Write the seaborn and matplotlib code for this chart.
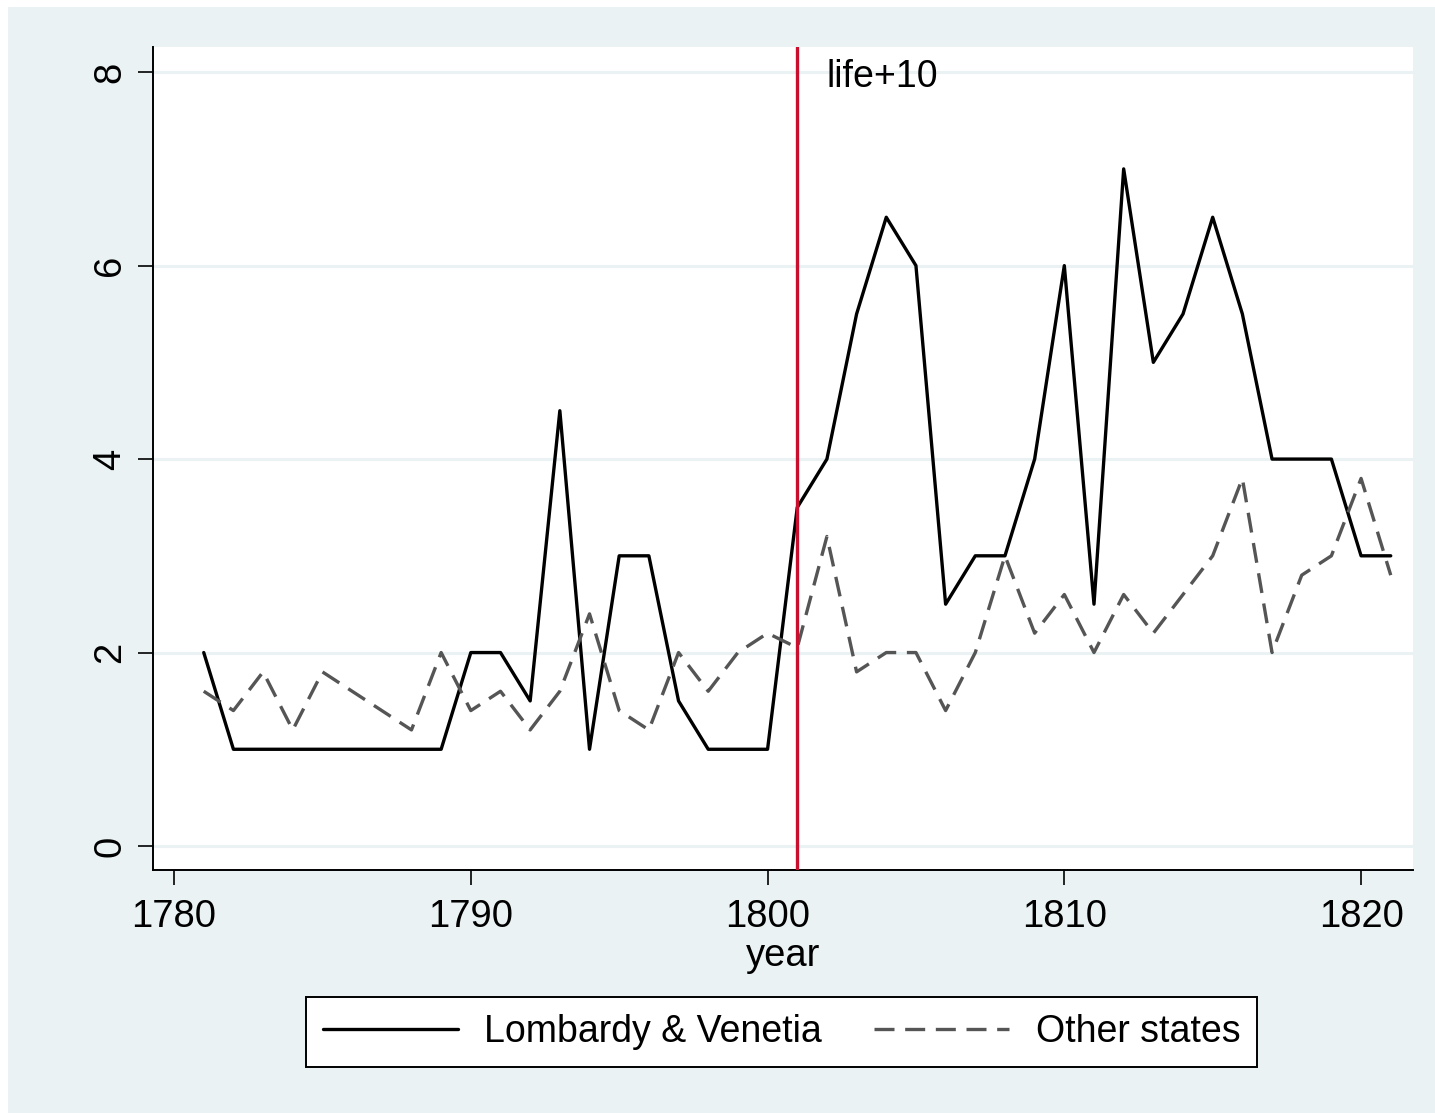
import matplotlib
matplotlib.use("Agg")
import matplotlib.pyplot as plt
import pandas as pd
import seaborn as sns
from matplotlib.patches import Rectangle

years = list(range(1781, 1822))
lombardy = [2, 1, 1, 1, 1, 1, 1, 1, 1, 2, 2, 1.5, 4.5, 1, 3, 3, 1.5, 1, 1, 1,
            3.5, 4, 5.5, 6.5, 6, 2.5, 3, 3, 4, 6, 2.5, 7, 5, 5.5, 6.5, 5.5, 4, 4, 4, 3, 3]
other = [1.6, 1.4, 1.8, 1.2, 1.8, 1.6, 1.4, 1.2, 2.0, 1.4, 1.6, 1.2, 1.6, 2.4, 1.4, 1.2, 2.0, 1.6, 2.0, 2.2,
         2.05, 3.2, 1.8, 2.0, 2.0, 1.4, 2.0, 3.0, 2.2, 2.6, 2.0, 2.6, 2.2, 2.6, 3.0, 3.8, 2.0, 2.8, 3.0, 3.8, 2.8]
series_names = ["Lombardy & Venetia", "Other states"]
event_year = 1801
event_label = "life+10"

BG = "#EAF2F3"

sns.set_theme(style="white")
plt.rcParams["font.family"] = ["Liberation Sans", "DejaVu Sans"]
plt.rcParams["text.color"] = "black"
plt.rcParams["xtick.color"] = "black"
plt.rcParams["ytick.color"] = "black"
plt.rcParams["axes.labelcolor"] = "black"

df = pd.DataFrame({"year": years, series_names[0]: lombardy, series_names[1]: other})

fig = plt.figure(figsize=(14.35, 11.13), dpi=100, facecolor=BG)
# thin white margin on the left and top, as in the original export
fig.patches.append(Rectangle((0, 0), 8 / 1435, 1, transform=fig.transFigure,
                             facecolor="white", edgecolor="none", zorder=-10))
fig.patches.append(Rectangle((0, 1 - 7 / 1113), 1, 7 / 1113, transform=fig.transFigure,
                             facecolor="white", edgecolor="none", zorder=-10))

ax = fig.add_axes([153 / 1435, 1 - 870 / 1113, (1413 - 153) / 1435, (870 - 47) / 1113])
ax.set_facecolor("white")

sns.lineplot(data=df, x="year", y=series_names[0], ax=ax, color="black", linewidth=2.4,
             label=series_names[0])
sns.lineplot(data=df, x="year", y=series_names[1], ax=ax, color="#555555", linewidth=2.4,
             label=series_names[1])
ax.lines[-1].set_dashes([6, 3.2])

ax.axvline(event_year, color="#C8102E", linewidth=2.4, zorder=5)
ax.text(event_year + 1.0, 7.95, event_label, fontsize=27, va="center", ha="left")

ax.set_xlim(1779.29, 1821.75)
ax.set_ylim(-0.248, 8.26)
ax.set_xticks([1780, 1790, 1800, 1810, 1820])
ax.set_yticks([0, 2, 4, 6, 8])
ax.grid(axis="y", color=BG, linewidth=2.2)
ax.grid(axis="x", visible=False)
ax.set_axisbelow(True)

for s in ["top", "right"]:
    ax.spines[s].set_visible(False)
for s in ["left", "bottom"]:
    ax.spines[s].set_color("black")
    ax.spines[s].set_linewidth(1.4)

ax.tick_params(axis="both", direction="out", length=11, width=1.2, color="black",
               labelsize=27.5, left=True, bottom=True)
ax.tick_params(axis="y", pad=7)
ax.tick_params(axis="x", pad=10)
for lab in ax.get_yticklabels():
    lab.set_rotation(90)
    lab.set_va("center")

ax.set_xlabel("year", fontsize=27.5, labelpad=2)
ax.set_ylabel("")

ax.get_legend().remove()
handles, labels = ax.get_legend_handles_labels()
leg = fig.legend(handles, labels, loc="center", bbox_to_anchor=(781.5 / 1435, 1 - 1032 / 1113),
                 ncol=2, fontsize=27, frameon=True, fancybox=False, handlelength=3.6,
                 columnspacing=1.4, handletextpad=0.7, borderpad=0.45)
leg.get_frame().set_edgecolor("black")
leg.get_frame().set_linewidth(1.4)
leg.get_frame().set_facecolor("white")
leg.get_frame().set_alpha(1)

fig.savefig("out.png", dpi=100, facecolor=BG)
